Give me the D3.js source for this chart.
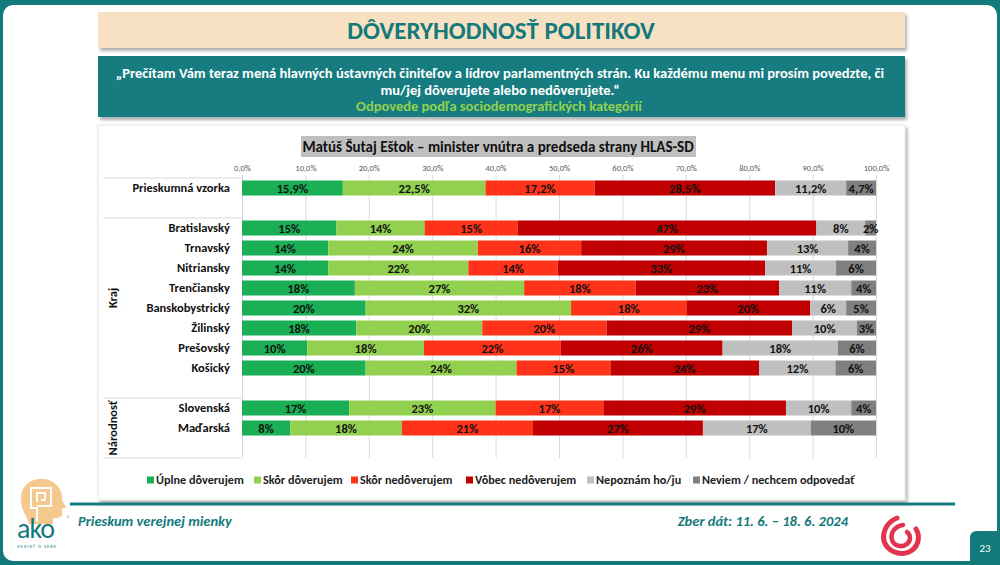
<!DOCTYPE html>
<html>
<head>
<meta charset="utf-8">
<script src="https://cdn.jsdelivr.net/npm/d3@7"></script>
<style>
  html, body { margin: 0; padding: 0; background: #fff; }
  svg { display: block; }
  text { font-family: Carlito, Calibri, Lato, sans-serif; }
</style>
</head>
<body>
<div id="chart"></div>
<script>
// categories (blank rows are group gaps)
const rows = ["Prieskumná vzorka", "_b1", "Bratislavský", "Trnavský", "Nitriansky", "Trenčiansky",
  "Banskobystrický", "Žilinský", "Prešovský", "Košický", "_b2", "Slovenská", "Maďarská", "_b3"];

const answers = ["Úplne dôverujem", "Skôr dôverujem", "Skôr nedôverujem", "Vôbec nedôverujem",
  "Nepoznám ho/ju", "Neviem / nechcem odpovedať"];
const colors = ["#1aaf54", "#92d050", "#ff3319", "#c00000", "#bfbfbf", "#808080"];

// shares in % per row, in answer order
const values = {
  "Prieskumná vzorka": [15.9, 22.5, 17.2, 28.5, 11.2, 4.7],
  "Bratislavský":      [14.9, 13.9, 14.7, 47.1, 7.7, 1.7],
  "Trnavský":          [13.6, 23.6, 16.3, 29.3, 12.8, 4.4],
  "Nitriansky":        [13.6, 22.1, 14.1, 32.7, 11.2, 6.3],
  "Trenčiansky":       [17.8, 26.7, 17.6, 22.6, 11.4, 3.9],
  "Banskobystrický":   [19.5, 32.4, 18.2, 19.5, 5.7, 4.7],
  "Žilinský":          [18.0, 19.9, 19.6, 29.3, 10.2, 3.0],
  "Prešovský":         [10.3, 18.4, 21.6, 25.5, 18.2, 6.0],
  "Košický":           [19.5, 23.8, 14.8, 23.5, 12.0, 6.4],
  "Slovenská":         [16.9, 23.1, 17.0, 28.8, 10.3, 3.9],
  "Maďarská":          [7.6, 17.6, 20.7, 26.8, 17.0, 10.3]
};

const groups = [
  { name: "Kraj", from: "Bratislavský", to: "Košický" },
  { name: "Národnosť", from: "Slovenská", to: "_b3" }
];

const tickValues = d3.range(0, 101, 10);

const teal = "#137a7c";
const W = 1000, H = 565;

const svg = d3.select("#chart").append("svg")
  .attr("width", W).attr("height", H);

const defs = svg.append("defs");
const shadow = defs.append("filter").attr("id", "shadow")
  .attr("x", "-5%").attr("y", "-20%").attr("width", "110%").attr("height", "150%");
shadow.append("feDropShadow")
  .attr("dx", 2).attr("dy", 3).attr("stdDeviation", 1.5)
  .attr("flood-color", "#000").attr("flood-opacity", 0.3);

// slide frame
svg.append("rect").attr("width", W).attr("height", H).attr("fill", teal);
svg.append("rect").attr("x", 3).attr("y", 5).attr("width", 994).attr("height", 556)
  .attr("rx", 10).attr("fill", "#fff");

// title box
svg.append("rect").attr("x", 98).attr("y", 12).attr("width", 807).attr("height", 36)
  .attr("fill", "#f8e0c2").attr("filter", "url(#shadow)");
svg.append("text").attr("x", 501).attr("y", 39).attr("text-anchor", "middle")
  .attr("fill", teal).attr("font-weight", "bold").attr("font-size", 25)
  .text("DÔVERYHODNOSŤ POLITIKOV");

// question box
svg.append("rect").attr("x", 98).attr("y", 56).attr("width", 807).attr("height", 61)
  .attr("fill", "#137b7f").attr("filter", "url(#shadow)");
const qLines = [
  "„Prečítam Vám teraz mená hlavných ústavných činiteľov a lídrov parlamentných strán. Ku každému menu mi prosím povedzte, či",
  "mu/jej dôverujete alebo nedôverujete.“"
];
qLines.forEach((t, i) => {
  svg.append("text").attr("x", 500).attr("y", 78 + i * 17).attr("text-anchor", "middle")
    .attr("fill", "#fff").attr("font-weight", "bold").attr("font-size", 14.5).text(t);
});
svg.append("text").attr("x", 499).attr("y", 111).attr("text-anchor", "middle")
  .attr("fill", "#92d050").attr("font-weight", "bold").attr("font-size", 14.5)
  .text("Odpovede podľa sociodemografických kategórií");

// chart box
svg.append("rect").attr("x", 98).attr("y", 125).attr("width", 807).attr("height", 375)
  .attr("fill", "#fff").attr("stroke", "#e6e6e6").attr("filter", "url(#shadow)");

// chart title
const ct = svg.append("g");
ct.append("rect").attr("x", 301).attr("y", 136).attr("width", 395).attr("height", 21)
  .attr("fill", "#bfbfbf");
ct.append("text").attr("x", 498).attr("y", 152).attr("text-anchor", "middle")
  .attr("font-weight", "bold").attr("font-size", 15).attr("fill", "#111")
  .text("Matúš Šutaj Eštok – minister vnútra a predseda strany HLAS-SD");

// scales
const x = d3.scaleLinear().domain([0, 100]).range([242, 876]);
const y = d3.scaleBand().domain(rows).range([178, 458])
  .paddingInner(0.25).paddingOuter(0.125);

// grid
svg.append("g").attr("transform", "translate(0,175)")
  .call(d3.axisTop(x).tickValues(tickValues).tickSize(-283).tickFormat(""))
  .call(g => g.select(".domain").remove())
  .call(g => g.selectAll("line").attr("stroke", "#d9d9d9"));

// tick labels
svg.append("g").attr("transform", "translate(0,175)")
  .call(d3.axisTop(x).tickValues(tickValues).tickSize(0).tickPadding(4)
    .tickFormat(d => d.toFixed(1).replace(".", ",") + "%"))
  .call(g => g.select(".domain").remove())
  .call(g => g.selectAll("text").attr("font-size", 8.5).attr("fill", "#595959")
    .attr("font-family", "Carlito, Calibri, Lato, sans-serif"));

// category divider lines
[178, 218, 398, 458].forEach(v => {
  svg.append("line").attr("x1", 103).attr("x2", 242).attr("y1", v).attr("y2", v)
    .attr("stroke", "#d9d9d9");
});

// category labels
svg.append("g").selectAll("text")
  .data(rows.filter(r => !r.startsWith("_")))
  .join("text")
  .attr("x", 230)
  .attr("y", d => y(d) + y.bandwidth() / 2)
  .attr("dy", "0.35em")
  .attr("text-anchor", "end")
  .attr("font-weight", "bold").attr("font-size", 12.5).attr("fill", "#111")
  .text(d => d);

// group labels
groups.forEach(gr => {
  const cy = (y(gr.from) + y(gr.to) + y.bandwidth()) / 2;
  svg.append("text")
    .attr("transform", `translate(113,${cy}) rotate(-90)`)
    .attr("text-anchor", "middle").attr("dy", "0.35em")
    .attr("font-weight", "bold").attr("font-size", 12.5).attr("fill", "#111")
    .text(gr.name);
});

// stacked bars
const segs = [];
Object.keys(values).forEach(r => {
  let acc = 0;
  values[r].forEach((v, i) => {
    segs.push({ row: r, i: i, x0: acc, x1: acc + v, v: v });
    acc += v;
  });
});

svg.append("g").selectAll("rect")
  .data(segs)
  .join("rect")
  .attr("x", d => x(d.x0))
  .attr("y", d => y(d.row))
  .attr("width", d => x(d.x1) - x(d.x0))
  .attr("height", y.bandwidth())
  .attr("fill", d => colors[d.i]);

svg.append("g").selectAll("text")
  .data(segs)
  .join("text")
  .attr("x", d => (x(d.x0) + x(d.x1)) / 2)
  .attr("y", d => y(d.row) + y.bandwidth() / 2)
  .attr("dy", "0.36em")
  .attr("text-anchor", "middle")
  .attr("font-weight", "bold").attr("font-size", 12.5).attr("fill", "#111")
  .text(d => d.row === "Prieskumná vzorka"
    ? d.v.toFixed(1).replace(".", ",") + "%"
    : Math.round(d.v) + "%");

// legend
const legendX = [147, 254, 351, 466, 587, 693];
const lg = svg.append("g").selectAll("g")
  .data(answers)
  .join("g")
  .attr("transform", (d, i) => `translate(${legendX[i]},480)`);
lg.append("rect").attr("x", 0).attr("y", -3.5).attr("width", 7).attr("height", 7)
  .attr("fill", (d, i) => colors[i]);
lg.append("text").attr("x", 9).attr("dy", "0.35em")
  .attr("font-weight", "bold").attr("font-size", 12.2).attr("fill", "#222")
  .text(d => d);

// footer
svg.append("line").attr("x1", 70).attr("x2", 955).attr("y1", 504).attr("y2", 504)
  .attr("stroke", teal).attr("stroke-width", 3);
svg.append("text").attr("x", 78).attr("y", 526)
  .attr("fill", teal).attr("font-weight", "bold").attr("font-style", "italic").attr("font-size", 14.5)
  .text("Prieskum verejnej mienky");
svg.append("text").attr("x", 848).attr("y", 526).attr("text-anchor", "end")
  .attr("fill", teal).attr("font-weight", "bold").attr("font-style", "italic").attr("font-size", 14.5)
  .text("Zber dát: 11. 6. – 18. 6. 2024");

// ako logo
const logo = svg.append("g").attr("transform", "translate(15,478)");
logo.append("path")
  .attr("d", "M12,40 C6,30 4,20 8,11 C13,2 26,-2 36,3 C44,7 48,15 47,22 L51,29 L47,31 L47,36 C47,39 44,40 40,40 L38,40 L38,46 L14,46 Z")
  .attr("fill", "#f5c98e");
logo.append("path")
  .attr("d", "M22,44 L22,30 L16,30 L16,10 L36,10 L36,28 L22,28 M22,24 L22,15 L30,15 L30,22 L26,22")
  .attr("fill", "none").attr("stroke", "#fff").attr("stroke-width", 2);
logo.append("text").attr("x", 2).attr("y", 60)
  .attr("font-family", "'DejaVu Serif', serif").attr("font-size", 28).attr("fill", teal)
  .attr("letter-spacing", -1).text("ako");
logo.append("text").attr("x", 52).attr("y", 42).attr("font-size", 6).attr("fill", teal).text("®");
logo.append("text").attr("x", 2).attr("y", 70).attr("font-size", 4.5).attr("fill", teal)
  .attr("letter-spacing", 1).text("VEDIEŤ O SEBE");

// red swirl logo
const sw = svg.append("g").attr("transform", "translate(901,535)").attr("fill", "none")
  .attr("stroke", "#e2344f").attr("stroke-linecap", "round");
sw.append("path").attr("d", "M-4,-17 C-14,-13 -19,-3 -17,6 C-14,16 -2,21 8,17 C17,13 20,2 15,-6")
  .attr("stroke-width", 5);
sw.append("path").attr("d", "M2,-10 C-6,-9 -11,-2 -9,5 C-7,11 1,13 6,9 C10,6 10,0 6,-3")
  .attr("stroke-width", 4.5);

// page number
svg.append("path").attr("d", "M970,561 L970,538 Q970,531 977,531 L1000,531 L1000,565 L970,565 Z")
  .attr("fill", teal);
svg.append("text").attr("x", 985).attr("y", 552).attr("text-anchor", "middle")
  .attr("fill", "#fff").attr("font-size", 11).text("23");
</script>
</body>
</html>
